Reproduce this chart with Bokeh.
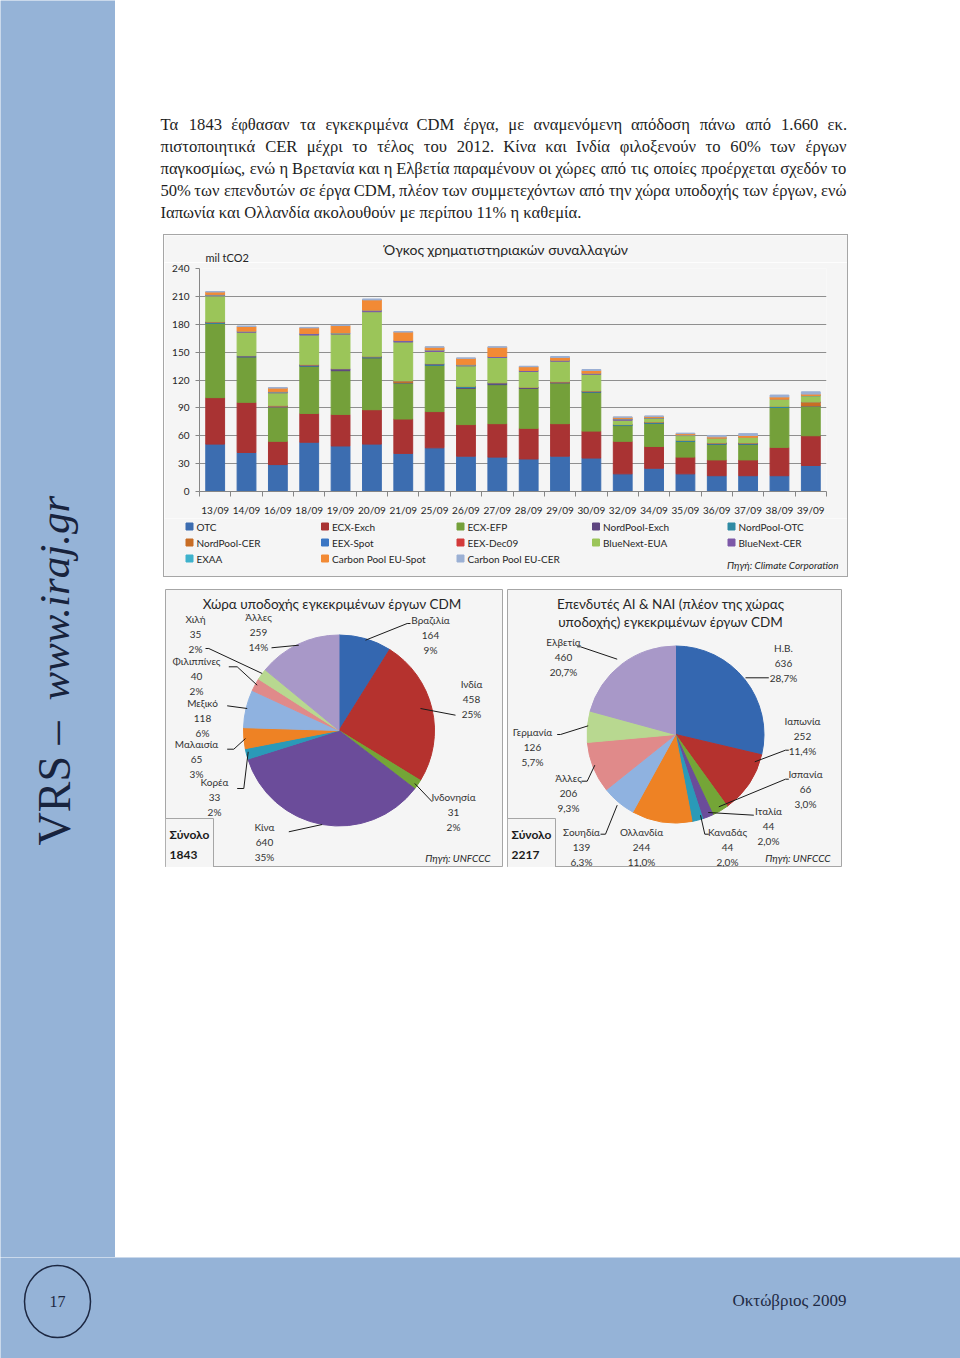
import numpy as np
from bokeh.plotting import figure
from bokeh.models import Range1d, FixedTicker, ColumnDataSource, Spacer
from bokeh.layouts import row, column
from bokeh.embed import file_html
from bokeh.resources import INLINE
from bokeh.core.properties import value

# ---------------- data ----------------
weeks = ["13/09", "14/09", "16/09", "18/09", "19/09", "20/09", "21/09", "25/09", "26/09", "27/09",
         "28/09", "29/09", "30/09", "32/09", "34/09", "35/09", "36/09", "37/09", "38/09", "39/09"]

otc           = [51, 42, 29, 53, 49, 51, 41, 47, 38, 37, 35, 38, 36, 19, 25, 19, 17, 17, 17, 28]
ecx_exch      = [50, 54, 25, 31, 34, 37, 37, 39, 34, 36, 33, 35, 29, 35, 23.5, 18, 17, 17, 30.5, 32]
ecx_efp       = [80, 49, 37, 51, 47, 56, 39, 50, 39, 42, 43, 44, 42, 17, 25, 17, 17, 17, 43, 32]
nordpool_exch = [0, 0, 0, 0, 2, 0, 0, 0, 1, 1, 1, 0, 0, 0, 0, 0, 0, 0, 0, 0]
nordpool_otc  = [1, 1, 0, 1, 0, 1, 0, 1.5, 1, 1, 0, 0, 1, 1, 1, 1, 1, 1, 1, 0]
nordpool_cer  = [0, 0, 1, 0, 0, 0, 1.5, 0, 0, 0, 0, 1, 0, 0, 0, 0, 0, 0, 0, 4]
eex_spot      = [0.3, 0.2, 0.1, 0.2, 0.2, 0.3, 0.2, 0.1, 0.1, 0.1, 0.1, 0.1, 0.1, 0.1, 0.1, 0.1, 0.1, 0.1, 0.1, 0.1]
eex_dec09     = [0.2, 0.2, 0.1, 0.2, 0.2, 0.2, 0.2, 0.1, 0.1, 0.1, 0.1, 0.1, 0.1, 0.1, 0.1, 0.1, 0.1, 0.1, 0.1, 0.1]
bluenext_eua  = [28, 25, 14, 32, 37, 48, 42, 13, 22, 27, 17, 22, 18, 4.5, 4, 5, 5, 6, 7.5, 7]
bluenext_cer  = [1, 1, 1, 1.5, 1, 1.5, 1.5, 1.5, 1, 1, 1, 1, 1, 1.5, 0.5, 0.5, 0, 0, 0, 0]
exaa          = [0.2, 0.2, 0.1, 0.2, 0.2, 0.2, 0.2, 0.1, 0.1, 0.1, 0.1, 0.1, 0.1, 0.1, 0.1, 0.1, 0.1, 0.1, 0.1, 0.1]
cp_spot       = [3, 5, 4, 6, 8, 11, 9, 3, 7, 10, 4, 3, 3, 1.5, 1.5, 1.5, 1.5, 2, 2.5, 1.5]
cp_cer        = [0.5, 0.5, 0.5, 0.5, 0.5, 1, 0.5, 0.5, 0.5, 0.5, 0.5, 1, 1, 0.5, 0.5, 0.5, 1.5, 2, 2, 2.5]

series_names = ["OTC", "ECX-Exch", "ECX-EFP", "NordPool-Exch", "NordPool-OTC", "NordPool-CER",
                "EEX-Spot", "EEX-Dec09", "BlueNext-EUA", "BlueNext-CER", "EXAA",
                "Carbon Pool EU-Spot", "Carbon Pool EU-CER"]
series_values = [otc, ecx_exch, ecx_efp, nordpool_exch, nordpool_otc, nordpool_cer,
                 eex_spot, eex_dec09, bluenext_eua, bluenext_cer, exaa, cp_spot, cp_cer]
series_colors = ["#3c6db0", "#a93333", "#74a03a", "#5e4580", "#2f8aa3", "#c86d25",
                 "#3b76c4", "#d33a3a", "#9bc559", "#7d58a8", "#3fb2cc", "#f28a35", "#9bb0d4"]
y_ticks = [0, 30, 60, 90, 120, 150, 180, 210, 240]

host_names = ["Βραζιλία", "Ινδία", "Ινδονησία", "Κίνα", "Κορέα", "Μαλαισία", "Μεξικό",
              "Φιλιππίνες", "Χιλή", "Άλλες"]
host_projects = [164, 458, 31, 640, 33, 65, 118, 40, 35, 259]
host_pct = ["9%", "25%", "2%", "35%", "2%", "3%", "6%", "2%", "2%", "14%"]
host_colors = ["#3467b0", "#b5322e", "#74a537", "#6b4c9a", "#2a9ab8", "#ee8224",
               "#8fb2e0", "#e08a8a", "#b8d890", "#a898c8"]

inv_names = ["Η.Β.", "Ιαπωνία", "Ισπανία", "Ιταλία", "Καναδάς", "Ολλανδία", "Σουηδία",
             "Άλλες", "Γερμανία", "Ελβετία"]
inv_projects = [636, 252, 66, 44, 44, 244, 139, 206, 126, 460]
inv_pct = ["28,7%", "11,4%", "3,0%", "2,0%", "2,0%", "11,0%", "6,3%", "9,3%", "5,7%", "20,7%"]
inv_colors = host_colors

paragraph = [
    "Τα 1843 έφθασαν τα εγκεκριμένα CDM έργα, με αναμενόμενη απόδοση πάνω από 1.660 εκ.",
    "πιστοποιητικά CER μέχρι το τέλος του 2012. Κίνα και Ινδία φιλοξενούν το 60% των έργων",
    "παγκοσμίως, ενώ η Βρετανία και η Ελβετία παραμένουν οι χώρες από τις οποίες προέρχεται σχεδόν το",
    "50% των επενδυτών σε έργα CDM, πλέον των συμμετεχόντων από την χώρα υποδοχής των έργων, ενώ",
    "Ιαπωνία και Ολλανδία ακολουθούν με περίπου 11% η καθεμία.",
]

# ---------------- styles ----------------
BLUE_BAND = "#95b3d7"
BOX_BG = "#f5f5f5"
BORDER = "#a6a6a6"
SANS = "Lato"
SERIF = "Liberation Serif"
TXT = "#262626"


def page_fig(x0, y0, w, h, bg="white", flip=True):
    yr = Range1d(y0 + h, y0) if flip else Range1d(-(y0 + h), -y0)
    p = figure(width=w, height=h, x_range=Range1d(x0, x0 + w), y_range=yr,
               toolbar_location=None, output_backend="svg", frame_align=False,
               x_axis_type=None, y_axis_type=None, min_border=0)
    p.background_fill_color = bg
    p.border_fill_color = bg
    p.outline_line_color = None
    return p


def bg_spacer(w, h, color):
    return Spacer(width=w, height=h, styles={"background-color": color})


# approximate relative advance widths (em) for the serif font, used to justify lines
EM = {" ": .25, ".": .25, ",": .25, "%": .833, "C": .667, "D": .722, "M": .889, "E": .611,
      "R": .667, "Τ": .611, "Κ": .722, "Ι": .333, "Β": .667, "Ε": .611,
      "α": .53, "ά": .53, "β": .5, "γ": .44, "δ": .5, "ε": .42, "έ": .42, "ζ": .43, "η": .5,
      "ή": .5, "θ": .5, "ι": .27, "ί": .27, "κ": .48, "λ": .48, "μ": .54, "ν": .45, "ξ": .44,
      "ο": .5, "ό": .5, "π": .54, "ρ": .5, "σ": .53, "ς": .43, "τ": .43, "υ": .49, "ύ": .49,
      "φ": .64, "χ": .46, "ψ": .68, "ω": .69, "ώ": .69}


def justify(line, x0, x1, natural_px):
    words = line.split(" ")
    ew = [sum(EM.get(ch, .5) for ch in w) for w in words]
    est = sum(ew) + EM[" "] * (len(words) - 1)
    k = natural_px / est
    extra = (x1 - x0 - natural_px) / (len(words) - 1)
    xs, x = [], x0
    for e in ew:
        xs.append(x)
        x += e * k + EM[" "] * k + extra
    return words, xs


# ---------------- left strip ----------------
left = page_fig(0, 0, 115, 1257, bg=BLUE_BAND)
left.text(x=[54], y=[845], text=["VRS – "], angle=np.pi / 2, text_align="left",
          text_baseline="alphabetic", text_font=value(SERIF), text_font_size="46px",
          text_color="#18233d")
left.text(x=[54], y=[700], text=["www.iraj.gr"], angle=np.pi / 2, text_align="left",
          text_baseline="alphabetic", text_font=value(SERIF), text_font_style="italic",
          text_font_size="43px", text_color="#18233d")

# ---------------- paragraph ----------------
txt = page_fig(115, 0, 845, 234)
line_y = [124, 146, 168, 190, 212]
naturals = [616, 609, 683, 688]
wx, wy, wt = [], [], []
for i, nat in enumerate(naturals):
    words, xs = justify(paragraph[i], 160, 846, nat)
    wt += words
    wx += xs
    wy += [line_y[i]] * len(words)
for i in range(len(naturals), len(paragraph)):
    wt.append(paragraph[i])
    wx.append(160)
    wy.append(line_y[i])
txt.text(x=wx, y=wy, text=wt, text_align="left", text_baseline="middle",
         text_font=value(SERIF), text_font_size="16.6px", text_color="#1e1e1e")

# ---------------- bar chart box ----------------
head = page_fig(164, 235, 683, 27, bg=BOX_BG)
head.text(x=[505.5], y=[249], text=["Όγκος χρηματιστηριακών συναλλαγών"], text_align="center",
          text_baseline="middle", text_font=value(SANS), text_font_size="14px", text_color=TXT)
head.text(x=[205], y=[256.5], text=["mil tCO2"], text_align="left", text_baseline="middle",
          text_font=value(SANS), text_font_size="11px", text_color=TXT)

n = len(weeks)
data = {"x": [i + 0.5 for i in range(n)]}
for name, vals in zip(series_names, series_values):
    data[name] = vals
src = ColumnDataSource(data)

bar = figure(width=683, height=256, x_range=Range1d(0, n), y_range=Range1d(0, 240),
             toolbar_location=None, output_backend="svg", frame_align=False,
             min_border_left=35, min_border_right=21, min_border_top=6, min_border_bottom=26)
bar.background_fill_color = BOX_BG
bar.border_fill_color = BOX_BG
bar.outline_line_color = None
bar.vbar_stack(series_names, x="x", width=0.6, color=series_colors, source=src)

xa = bar.xaxis[0]
xa.ticker = FixedTicker(ticks=[i + 0.5 for i in range(n)], minor_ticks=list(range(n + 1)))
xa.major_label_overrides = {i + 0.5: w for i, w in enumerate(weeks)}
xa.major_tick_out = 0
xa.major_tick_in = 0
xa.minor_tick_out = 5
xa.minor_tick_in = 0
xa.minor_tick_line_color = "#868686"
xa.axis_line_color = "#868686"
xa.major_label_standoff = 7
xa.major_label_text_font = SANS
xa.major_label_text_font_size = "10px"
xa.major_label_text_color = TXT

ya = bar.yaxis[0]
ya.ticker = FixedTicker(ticks=y_ticks)
ya.major_tick_out = 4
ya.major_tick_in = 0
ya.minor_tick_out = 0
ya.minor_tick_in = 0
ya.major_tick_line_color = "#868686"
ya.axis_line_color = "#868686"
ya.major_label_standoff = 6
ya.major_label_text_font = SANS
ya.major_label_text_font_size = "10px"
ya.major_label_text_color = TXT
bar.xgrid.grid_line_color = None
bar.ygrid.grid_line_color = "#8f8f8f"
bar.ygrid.grid_line_width = 1

leg = page_fig(164, 518, 683, 58, bg=BOX_BG)
lx, ly, lt = [], [], []
for k, name in enumerate(series_names):
    r, c = divmod(k, 5)
    lx.append(189 + 135.5 * c)
    ly.append(526 + 16 * r)
    lt.append(name)
leg.scatter(x=lx, y=ly, marker="square", size=7, color=series_colors)
leg.text(x=[v + 7 for v in lx], y=ly, text=lt, text_align="left", text_baseline="middle",
         text_font=value(SANS), text_font_size="10px", text_color=TXT)
leg.text(x=[838], y=[564], text=["Πηγή: Climate Corporation"], text_align="right",
         text_baseline="middle", text_font=value(SANS), text_font_style="italic",
         text_font_size="10px", text_color=TXT)

bar_box = row(
    bg_spacer(1, 343, BORDER),
    column(bg_spacer(683, 1, BORDER), head, bar, leg, bg_spacer(683, 1, BORDER)),
    bg_spacer(1, 343, BORDER),
)


# ---------------- pies ----------------
def make_pie(x0, w, names, vals, pcts, colors, title_lines, title_cx, center, radius,
             label_xy, leaders, total_text, src_right):
    y0, h = 589, 278
    p = page_fig(x0, y0, w, h, bg=BOX_BG, flip=False)
    p.outline_line_color = BORDER
    p.text(x=[title_cx] * len(title_lines), y=[-(603 + 18.5 * i) for i in range(len(title_lines))],
           text=title_lines, text_align="center", text_baseline="middle",
           text_font=value(SANS), text_font_size="13.5px", text_color=TXT)
    total = float(sum(vals))
    ang = np.array(vals, dtype=float) / total * 2 * np.pi
    cum = np.cumsum(ang)
    ws = ColumnDataSource(dict(start=np.pi / 2 - (cum - ang), end=np.pi / 2 - cum, color=colors))
    p.wedge(x=center[0], y=-center[1], radius=radius, start_angle="start", end_angle="end",
            direction="clock", fill_color="color", line_color="color", source=ws)
    lines = [ln for ln in leaders if ln]
    p.multi_line(xs=[[pt[0] for pt in ln] for ln in lines],
                 ys=[[-pt[1] for pt in ln] for ln in lines], line_color="#1a1a1a", line_width=1)
    p.text(x=[xy[0] for xy in label_xy], y=[-xy[1] for xy in label_xy],
           text=[f"{a}\n{b}\n{c}" for a, b, c in zip(names, vals, pcts)],
           text_align="center", text_baseline="middle", text_line_height=1.25,
           text_font=value(SANS), text_font_size="10px", text_color="#333333")
    p.quad(left=x0, right=x0 + 48, top=-818, bottom=-(y0 + h), fill_color=BOX_BG,
           line_color=BORDER)
    p.text(x=[x0 + 4], y=[-844], text=[f"Σύνολο\n{total_text}"], text_align="left",
           text_baseline="middle", text_line_height=1.3, text_font=value(SANS),
           text_font_style="bold", text_font_size="12px", text_color="#1a1a1a")
    p.text(x=[src_right], y=[-857], text=["Πηγή: UNFCCC"], text_align="right",
           text_baseline="middle", text_font=value(SANS), text_font_style="italic",
           text_font_size="10px", text_color=TXT)
    return p


pie1 = make_pie(
    165, 338, host_names, host_projects, host_pct, host_colors,
    ["Χώρα υποδοχής εγκεκριμένων έργων CDM"], 331.5, (338.5, 730), 95.5,
    [(430, 634), (471, 698), (453, 811), (264, 841), (214, 796), (196, 758), (202, 717),
     (196, 675), (195, 633), (258, 631)],
    [[(365, 639.7), (406.7, 623), (410, 623)], [(420, 708), (455, 714.7)],
     [(414.3, 783), (431.7, 801.3)], [(321.7, 824), (288.3, 831.3)],
     [(247.7, 751.3), (243.3, 788), (236.7, 788)], [(245, 738), (233.3, 748.7), (226.7, 748.7)],
     [(246.7, 708), (226.7, 705.3)], [(256.7, 684.7), (236.7, 666.3), (228.3, 666.3)],
     [(261.7, 673), (208.3, 648), (205, 648)], [(298.3, 644.7), (271, 647.3)]],
    str(sum(host_projects)), 490)

pie2 = make_pie(
    507, 335, inv_names, inv_projects, inv_pct, inv_colors,
    ["Επενδυτές AI & NAI (πλέον της χώρας", "υποδοχής) εγκεκριμένων έργων CDM"], 670,
    (675, 734), 88.5,
    [(783, 662), (802, 735), (805, 788), (768, 825), (727, 846), (641, 846), (581, 846),
     (568, 792), (532, 746), (563, 656)],
    [[(745, 677.3), (768.3, 677.3)], [(754.3, 761.3), (785, 749.7), (788.3, 749.7)],
     [(718.3, 806.3), (785, 778.7), (788.3, 778.7)], [(707.7, 812), (753.3, 814.7)],
     [(700, 814.7), (704.3, 833.7), (708.3, 833.7)], [],
     [(616.7, 804.7), (605, 833.7), (600, 833.7)], [(594.3, 764.7), (586.7, 780.7), (581, 780.7)],
     [(587.7, 725.3), (560, 734), (556.7, 734)], [(616.7, 658.7), (580, 646.3), (576.7, 646.3)]],
    str(sum(inv_projects)), 830)

# ---------------- footer ----------------
foot = page_fig(0, 1257, 960, 101, bg=BLUE_BAND)
foot.ellipse(x=[57], y=[1301], width=66, height=72, fill_color=None, line_color="#1c2741",
             line_width=1.5)
foot.text(x=[57], y=[1301], text=["17"], text_align="center", text_baseline="middle",
          text_font=value(SERIF), text_font_size="16px", text_color="#1c2741")
foot.text(x=[789], y=[1300], text=["Οκτώβριος 2009"], text_align="center",
          text_baseline="middle", text_font=value(SERIF), text_font_size="17px",
          text_color="#1f2a44")

right_col = column(
    txt,
    row(Spacer(width=48, height=343), bar_box, Spacer(width=112, height=343)),
    Spacer(width=845, height=12),
    row(Spacer(width=50, height=278), pie1, Spacer(width=4, height=278), pie2,
        Spacer(width=118, height=278)),
    Spacer(width=845, height=1257 - 234 - 343 - 12 - 278),
)

page = column(row(left, right_col), foot)

open("out.html", "w").write(file_html(page, INLINE))
